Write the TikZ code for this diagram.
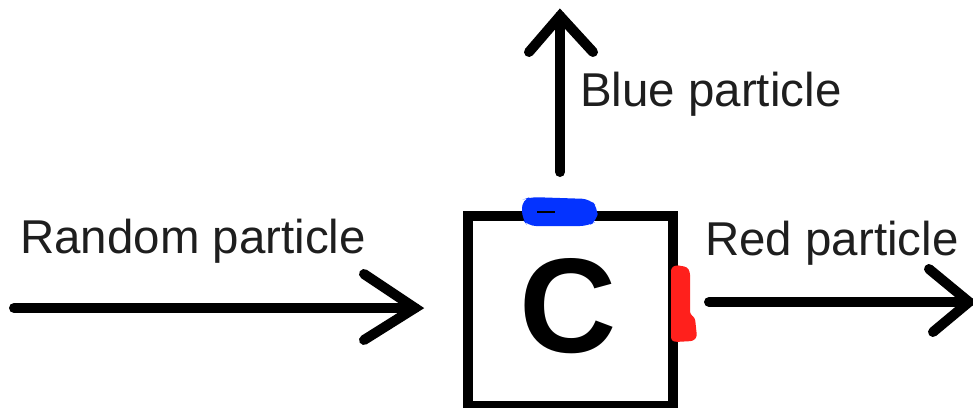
\documentclass[tikz,border=0pt]{standalone}
\usepackage{fontspec}
\setmainfont{Liberation Sans}
\usetikzlibrary{calc}
\definecolor{bluemark}{RGB}{4,51,255}
\definecolor{redmark}{RGB}{255,32,28}
\definecolor{txt}{RGB}{30,30,30}
\tikzset{
  arrowline/.style={line width=7.5pt, line cap=round, line join=miter},
  lbl/.style={anchor=base west, inner sep=0pt, text=txt, font=\fontsize{35.6pt}{40pt}\selectfont},
  boxstyle/.style={draw, line width=7.5pt, minimum width=153.75pt, minimum height=142.5pt, inner sep=0pt},
}
\begin{document}
\begin{tikzpicture}[x=0.75pt, y=-0.75pt]
\useasboundingbox (0,0) rectangle (973,407);
% box
\node[boxstyle] (box) at (570.5,311) {};
\node[inner sep=0pt, font=\fontsize{101pt}{110pt}\selectfont\bfseries] (cl) at (568,306.5) {C};
% coordinates
\coordinate (inS) at (14,308);
\coordinate (inT) at (415,308);
\coordinate (upS) at (560,172);
\coordinate (upT) at (560,16);
\coordinate (outS) at (709,302);
\coordinate (outT) at (969,302);
% arrows
\draw[arrowline] (inS) -- (inT);
\draw[arrowline] ($(inT)+(-51,-34)$) -- (inT) -- ($(inT)+(-51,32)$);
\draw[arrowline] (upS) -- (upT);
\draw[arrowline] ($(upT)+(-31,36)$) -- (upT) -- ($(upT)+(33,36)$);
\draw[arrowline] (outS) -- (outT);
\draw[arrowline] ($(outT)+(-40,-33)$) -- (outT) -- ($(outT)+(-36,30)$);
% labels
\node[lbl] (lin) at (20,253) {Random particle};
\node[lbl] (lup) at (580,106) {Blue particle};
\node[lbl] (lout) at (705,255) {Red particle};
% marks
\fill[bluemark, rounded corners=6pt] (522,200) -- (530,197) -- (590,199) -- (598,208) -- (597,221) -- (588,226) -- (528,226) -- (522,219) -- cycle;
\draw[line width=1.5pt] (537,212) -- (555,212);
\fill[redmark, rounded corners=2pt] (671,268) -- (676,265) -- (687,267) -- (690,272) -- (690,314) -- (695,318) -- (697,337) -- (693,341) -- (675,342) -- (671,340) -- cycle;
\end{tikzpicture}
\end{document}
